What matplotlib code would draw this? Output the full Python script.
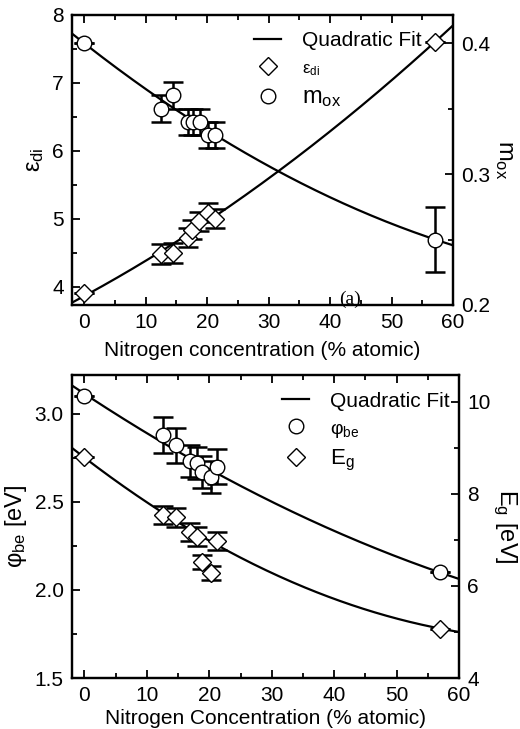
import numpy as np
import matplotlib
matplotlib.use("Agg")
import matplotlib.pyplot as plt
from matplotlib.lines import Line2D

plt.rcParams['font.family'] = ['Liberation Sans', 'DejaVu Sans']
plt.rcParams['mathtext.default'] = 'regular'

# panel (a)
n_a = [0, 12.5, 14.5, 16.9, 17.5, 18.7, 20.1, 21.3, 57.1]
eps_di = [3.9, 4.48, 4.5, 4.72, 4.84, 4.96, 5.09, 5.0, 7.6]
eps_err = [0, 0.15, 0.15, 0.14, 0.14, 0.14, 0.14, 0.14, 0]
n_m = [0, 12.5, 14.5, 16.9, 17.7, 18.9, 20.2, 21.3, 57.1]
m_ox = [0.4, 0.35, 0.36, 0.34, 0.34, 0.34, 0.33, 0.33, 0.25]
m_err = [0, 0.01, 0.01, 0.01, 0.01, 0.01, 0.01, 0.01, 0.025]

# panel (b)
n_b = [0, 12.5, 14.6, 16.9, 18.0, 18.9, 20.3, 21.3, 57.0]
phi_be = [3.10, 2.88, 2.82, 2.73, 2.72, 2.67, 2.64, 2.70, 2.10]
phi_err = [0, 0.10, 0.10, 0.09, 0.09, 0.09, 0.09, 0.10, 0]
eg = [8.80, 7.54, 7.49, 7.17, 7.07, 6.52, 6.28, 6.97, 5.07]
eg_err = [0, 0.19, 0.2, 0.2, 0.2, 0.15, 0.15, 0.2, 0]
eg_in_fit = [1, 1, 1, 1, 1, 0, 0, 1, 1]   # two low points left out of the fit

W, H = 520, 729
fig = plt.figure(figsize=(W / 100, H / 100), dpi=100)

def box(l, t, r, b):
    return [l / W, 1 - b / H, (r - l) / W, (b - t) / H]

xx = np.linspace(-2, 60, 300)

def style(ax, right=False):
    for s in ax.spines.values():
        s.set_linewidth(1.6)
    ax.tick_params(direction='in', which='major', length=6, width=1.3, labelsize=15,
                   pad=6, top=not right, bottom=not right, left=not right, right=right,
                   labelleft=not right, labelright=right)
    ax.tick_params(direction='in', which='minor', length=3.5, width=1.3,
                   top=not right, bottom=not right, left=not right, right=right)

def draw(ax, x, y, err, marker, ms, use=None):
    ax.errorbar(x, y, yerr=err, fmt='none', ecolor='black', elinewidth=1.8,
                capsize=7, capthick=1.8, zorder=3)
    ax.plot(x, y, ls='none', marker=marker, ms=ms, mfc='white', mec='black',
            mew=1.0, zorder=4)
    x = np.array(x)
    y = np.array(y)
    if use is not None:
        keep = np.array(use, dtype=bool)
        x, y = x[keep], y[keep]
    c = np.polyfit(x, y, 2)
    ax.plot(xx, np.polyval(c, xx), color='black', lw=1.6, zorder=2)

# ---- top panel
ax1 = fig.add_axes(box(72, 15, 453, 305))
ax1r = ax1.twinx()
draw(ax1, n_a, eps_di, eps_err, 'D', 9)
draw(ax1r, n_m, m_ox, m_err, 'o', 10.5)
ax1.set_xlim(-2, 60)
ax1.set_ylim(3.73, 8)
ax1r.set_ylim(0.2, 0.4214)
ax1.set_xticks(range(0, 61, 10))
ax1.set_xticks(range(5, 61, 10), minor=True)
ax1.set_yticks([4, 5, 6, 7, 8])
ax1.set_yticks([4.5, 5.5, 6.5, 7.5], minor=True)
ax1r.set_yticks([0.2, 0.3, 0.4])
ax1r.set_yticklabels(['0.2', '0.3', '0.4'])
ax1r.set_yticks([0.25, 0.35], minor=True)
style(ax1)
style(ax1r, right=True)
ax1.set_xlabel('Nitrogen concentration (% atomic)', fontsize=15, labelpad=6)
ax1.set_ylabel('ε$_{di}$', fontsize=17, labelpad=4)
ax1r.set_ylabel('m$_{ox}$', fontsize=17, rotation=270, labelpad=18)
ax1.text((350 - 72) / 381, (305 - 299) / 290, '(a)', transform=ax1.transAxes,
         fontsize=14, family='Liberation Serif', ha='center', va='center')
h1 = [Line2D([], [], color='black', lw=1.6),
      Line2D([], [], ls='none', marker='D', ms=9, mfc='white', mec='black'),
      Line2D([], [], ls='none', marker='o', ms=10.5, mfc='white', mec='black')]
leg = ax1.legend(h1, ['Quadratic Fit', 'ε$_{di}$', 'm$_{ox}$'], frameon=False,
                 loc='upper left', bbox_to_anchor=((254 - 72) / 381, 0.945),
                 borderpad=0, borderaxespad=0, handlelength=1.3, handletextpad=1.0,
                 labelspacing=0.4, fontsize=15)
for t, s in zip(leg.get_texts(), [15, 12, 17]):
    t.set_fontsize(s)

# ---- bottom panel
ax2 = fig.add_axes(box(72, 375, 459, 678))
ax2r = ax2.twinx()
draw(ax2, n_b, phi_be, phi_err, 'o', 10.5)
draw(ax2r, n_b, eg, eg_err, 'D', 9, eg_in_fit)
ax2.set_xlim(-2, 60)
ax2.set_ylim(1.5, 3.22)
ax2r.set_ylim(4, 10.58)
ax2.set_xticks(range(0, 61, 10))
ax2.set_xticks(range(5, 61, 10), minor=True)
ax2.set_yticks([1.5, 2.0, 2.5, 3.0])
ax2.set_yticks([1.75, 2.25, 2.75], minor=True)
ax2r.set_yticks([4, 6, 8, 10])
ax2r.set_yticks([5, 7, 9], minor=True)
style(ax2)
style(ax2r, right=True)
ax2.set_xlabel('Nitrogen Concentration (% atomic)', fontsize=15, labelpad=3)
ax2.set_ylabel('φ$_{be}$ [eV]', fontsize=17, labelpad=4)
ax2r.set_ylabel('E$_{g}$ [eV]', fontsize=17, rotation=270, labelpad=20)
h2 = [Line2D([], [], color='black', lw=1.6),
      Line2D([], [], ls='none', marker='o', ms=10.5, mfc='white', mec='black'),
      Line2D([], [], ls='none', marker='D', ms=9, mfc='white', mec='black')]
leg2 = ax2.legend(h2, ['Quadratic Fit', 'φ$_{be}$', 'E$_{g}$'], frameon=False,
                  loc='upper left', bbox_to_anchor=((282 - 72) / 387, 0.945),
                  borderpad=0, borderaxespad=0, handlelength=1.3, handletextpad=1.0,
                  labelspacing=0.4, fontsize=15)
for t, s in zip(leg2.get_texts(), [15, 14, 16]):
    t.set_fontsize(s)

fig.savefig('out.png', dpi=100)
